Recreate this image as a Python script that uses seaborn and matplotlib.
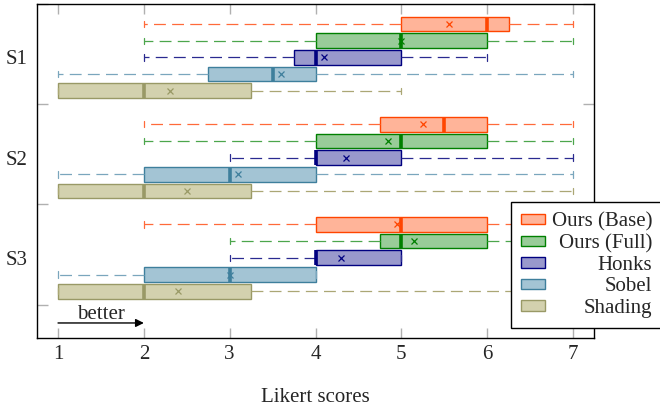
import matplotlib
matplotlib.use("Agg")
import matplotlib.pyplot as plt
from matplotlib.patches import Patch
import seaborn as sns

# rows = method, columns = S1, S2, S3
groups = ["S1", "S2", "S3"]
methods = ["Ours (Base)", "Ours (Full)", "Honks", "Sobel", "Shading"]

whislo = [[2, 2, 2], [2, 2, 3], [2, 3, 3], [1, 1, 1], [1, 1, 1]]
q1 = [[5, 4.75, 4], [4, 4, 4.75], [3.75, 4, 4], [2.75, 2, 2], [1, 1, 1]]
med = [[6, 5.5, 5], [5, 5, 5], [4, 4, 4], [3.5, 3, 3], [2, 2, 2]]
q3 = [[6.25, 6, 6], [6, 6, 6], [5, 5, 5], [4, 4, 4], [3.25, 3.25, 3.25]]
whishi = [[7, 7, 7], [7, 7, 7], [6, 7, 5], [7, 7, 4], [5, 7, 7]]
means = [[5.55, 5.25, 4.95], [5.0, 4.85, 5.15], [4.1, 4.35, 4.3], [3.6, 3.1, 3.0], [2.3, 2.5, 2.4]]

edge_colors = ["#FF4500", "#008000", "#000080", "#3E7F9C", "#999966"]
fill_colors = ["#FFB499", "#99CC99", "#9999CC", "#A3C4D4", "#D3D1AE"]
whisk_colors = ["#FF6A3A", "#4CA64C", "#2A2A90", "#7AA6BD", "#ABA775"]

sns.set_theme(style="ticks")
plt.rcParams['font.family'] = ['Liberation Serif', 'DejaVu Serif']
plt.rcParams['font.size'] = 15

fig = plt.figure(figsize=(6.6, 4.07), dpi=100)
ax = fig.add_axes([37 / 660, 1 - 338 / 407, 557 / 660, 334 / 407])

for i, name in enumerate(methods):
    stats = []
    for g in range(len(groups)):
        stats.append(dict(whislo=whislo[i][g], q1=q1[i][g], med=med[i][g],
                          q3=q3[i][g], whishi=whishi[i][g], mean=means[i][g],
                          fliers=[]))
    pos = [6 * g + i for g in range(len(groups))]
    ax.bxp(stats, positions=pos, widths=0.88, orientation='horizontal',
           showmeans=True, showfliers=False, patch_artist=True, capwidths=0.38,
           boxprops=dict(facecolor=fill_colors[i], edgecolor=edge_colors[i], linewidth=1.0),
           medianprops=dict(color=edge_colors[i], linewidth=2.6, solid_capstyle='butt'),
           whiskerprops=dict(color=whisk_colors[i], linewidth=0.9, linestyle=(0, (9.5, 5))),
           capprops=dict(color=whisk_colors[i], linewidth=0.9),
           meanprops=dict(marker='x', markersize=4.5, markeredgecolor=edge_colors[i],
                          markeredgewidth=0.9))

ax.set_xlim(0.755, 7.245)
ax.set_ylim(18.8, -1.2)
ax.set_xticks(range(1, 8))
ax.set_yticks([6 * g + 2 for g in range(len(groups))])
ax.set_yticklabels(groups)
ax.set_yticks([-1.2, 4.8, 10.8, 16.8], minor=True)

ax.tick_params(axis='x', direction='in', top=True, color='#b0b0b0', length=7,
               width=1, labelsize=15, pad=5)
ax.tick_params(axis='y', which='major', length=0, labelsize=15, pad=7)
ax.tick_params(axis='y', which='minor', direction='in', left=True, right=True,
               color='#b0b0b0', length=8, width=1)
for s in ax.spines.values():
    s.set_color('black')
    s.set_linewidth(1.0)

ax.set_xlabel("Likert scores", fontsize=15, labelpad=17)
ax.set_ylabel("")

# "better" arrow
ax.annotate("", xy=(2, 17.9), xytext=(1, 17.9),
            arrowprops=dict(arrowstyle='-|>', color='black', lw=1, mutation_scale=12,
                            shrinkA=0, shrinkB=0))
ax.text(1.5, 17.95, "better", ha='center', va='bottom', fontsize=15)

handles = [Patch(facecolor=fill_colors[i], edgecolor=edge_colors[i], linewidth=1)
           for i in range(len(methods))]
leg = ax.legend(handles, methods, loc='upper left',
                bbox_to_anchor=(511 / 660, 1 - 202 / 407), bbox_transform=fig.transFigure,
                borderaxespad=0, fancybox=False, framealpha=1, edgecolor='black',
                fontsize=15, handlelength=1.15, handleheight=0.4, handletextpad=0.3,
                labelspacing=0.12, borderpad=0.5)
leg.get_frame().set_linewidth(1.0)

# right-align the legend labels
fig.canvas.draw()
renderer = fig.canvas.get_renderer()
widths = [t.get_window_extent(renderer).width for t in leg.get_texts()]
shift = max(widths)
for t, w in zip(leg.get_texts(), widths):
    t.set_position((shift - w, 0))

fig.savefig("out.png", dpi=100)
